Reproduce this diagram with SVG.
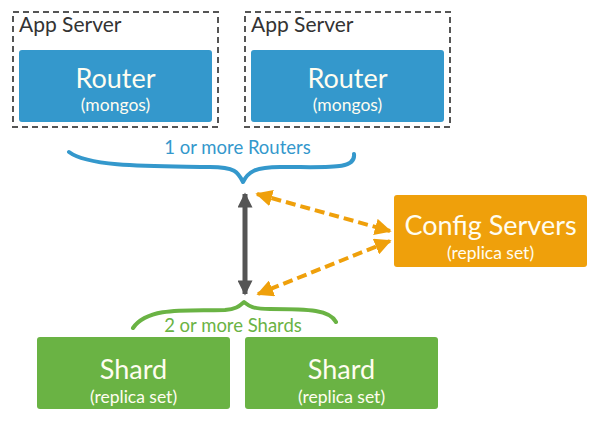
<svg xmlns="http://www.w3.org/2000/svg" width="600" height="426" viewBox="0 0 600 426">
<defs>
<style>
.t{font-family:Lato,"Open Sans","DejaVu Sans",sans-serif;text-anchor:middle}
.big{font-size:27px;fill:#fffdf0}
.small{font-size:17.5px;fill:#fffdf0}
.app{fill:none;stroke:#555;stroke-width:2;stroke-dasharray:6 4}
.apptxt{font-family:Lato,"Open Sans","DejaVu Sans",sans-serif;font-size:21px;fill:#333}
.router{fill:#3498cc}
.shard{fill:#6ab344}
.config{fill:#efa00b}
.dash{fill:none;stroke:#efa00b;stroke-width:4;stroke-dasharray:10 5}
</style>
<marker id="og" viewBox="0 0 10 10" refX="9" refY="5" markerWidth="4.2" markerHeight="4.2" orient="auto-start-reverse" markerUnits="strokeWidth">
<path d="M0,0 L10,5 L0,10 Z" fill="#efa00b"/>
</marker>
<marker id="gy" viewBox="0 0 10 10" refX="9" refY="5" markerWidth="3.6" markerHeight="3" orient="auto-start-reverse" markerUnits="strokeWidth">
<path d="M0,0 L10,5 L0,10 Z" fill="#555"/>
</marker>
</defs>

<g id="appserver1">
<rect class="app" x="13" y="12" width="205" height="115"/>
<text class="apptxt" x="19" y="32">App Server</text>
</g>
<g id="router1">
<rect class="router" x="19" y="50" width="193" height="72" rx="3"/>
<text class="t big" x="115.5" y="87.5">Router</text>
<text class="t small" x="115.5" y="111">(mongos)</text>
</g>
<g id="appserver2">
<rect class="app" x="245" y="12" width="205" height="115"/>
<text class="apptxt" x="251" y="32">App Server</text>
</g>
<g id="router2">
<rect class="router" x="251" y="50" width="193" height="72" rx="3"/>
<text class="t big" x="347.5" y="87.5">Router</text>
<text class="t small" x="347.5" y="111">(mongos)</text>
</g>

<g id="routers-brace">
<path d="M69,152 C90,168 160,166 210,167 C235,167 238,172 243,182 C248,172 255,167 280,167 C330,167 356,170 354,154" fill="none" stroke="#3498cc" stroke-width="4" stroke-linecap="round" stroke-linejoin="round"/>
<text class="t" x="237.5" y="154" style="font-size:18.5px;fill:#3498cc">1 or more Routers</text>
</g>

<g id="config">
<rect class="config" x="394" y="195" width="193" height="72" rx="3"/>
<text class="t big" x="490.5" y="235">Config Servers</text>
<text class="t small" x="490.5" y="258.5">(replica set)</text>
</g>

<g id="shards-brace">
<path d="M133,328 C148,306 190,311 225,310 C238,309 240,305 244,302 C249,306 252,309 270,309 C310,309 330,310 336,322" fill="none" stroke="#6ab344" stroke-width="4" stroke-linecap="round" stroke-linejoin="round"/>
<text class="t" x="233" y="332" style="font-size:18.5px;fill:#6ab344">2 or more Shards</text>
</g>

<g id="shard1">
<rect class="shard" x="37" y="337" width="193" height="72" rx="3"/>
<text class="t big" x="133.5" y="379">Shard</text>
<text class="t small" x="133.5" y="402.5">(replica set)</text>
</g>
<g id="shard2">
<rect class="shard" x="245" y="337" width="193" height="72" rx="3"/>
<text class="t big" x="341.5" y="379">Shard</text>
<text class="t small" x="341.5" y="402.5">(replica set)</text>
</g>

<g id="connectors">
<line x1="245" y1="194" x2="245" y2="294" stroke="#555" stroke-width="5" marker-start="url(#gy)" marker-end="url(#gy)"/>
<line class="dash" x1="257" y1="194" x2="390" y2="231" marker-start="url(#og)" marker-end="url(#og)"/>
<line class="dash" x1="390" y1="241" x2="258" y2="294" marker-start="url(#og)" marker-end="url(#og)"/>
</g>
</svg>
